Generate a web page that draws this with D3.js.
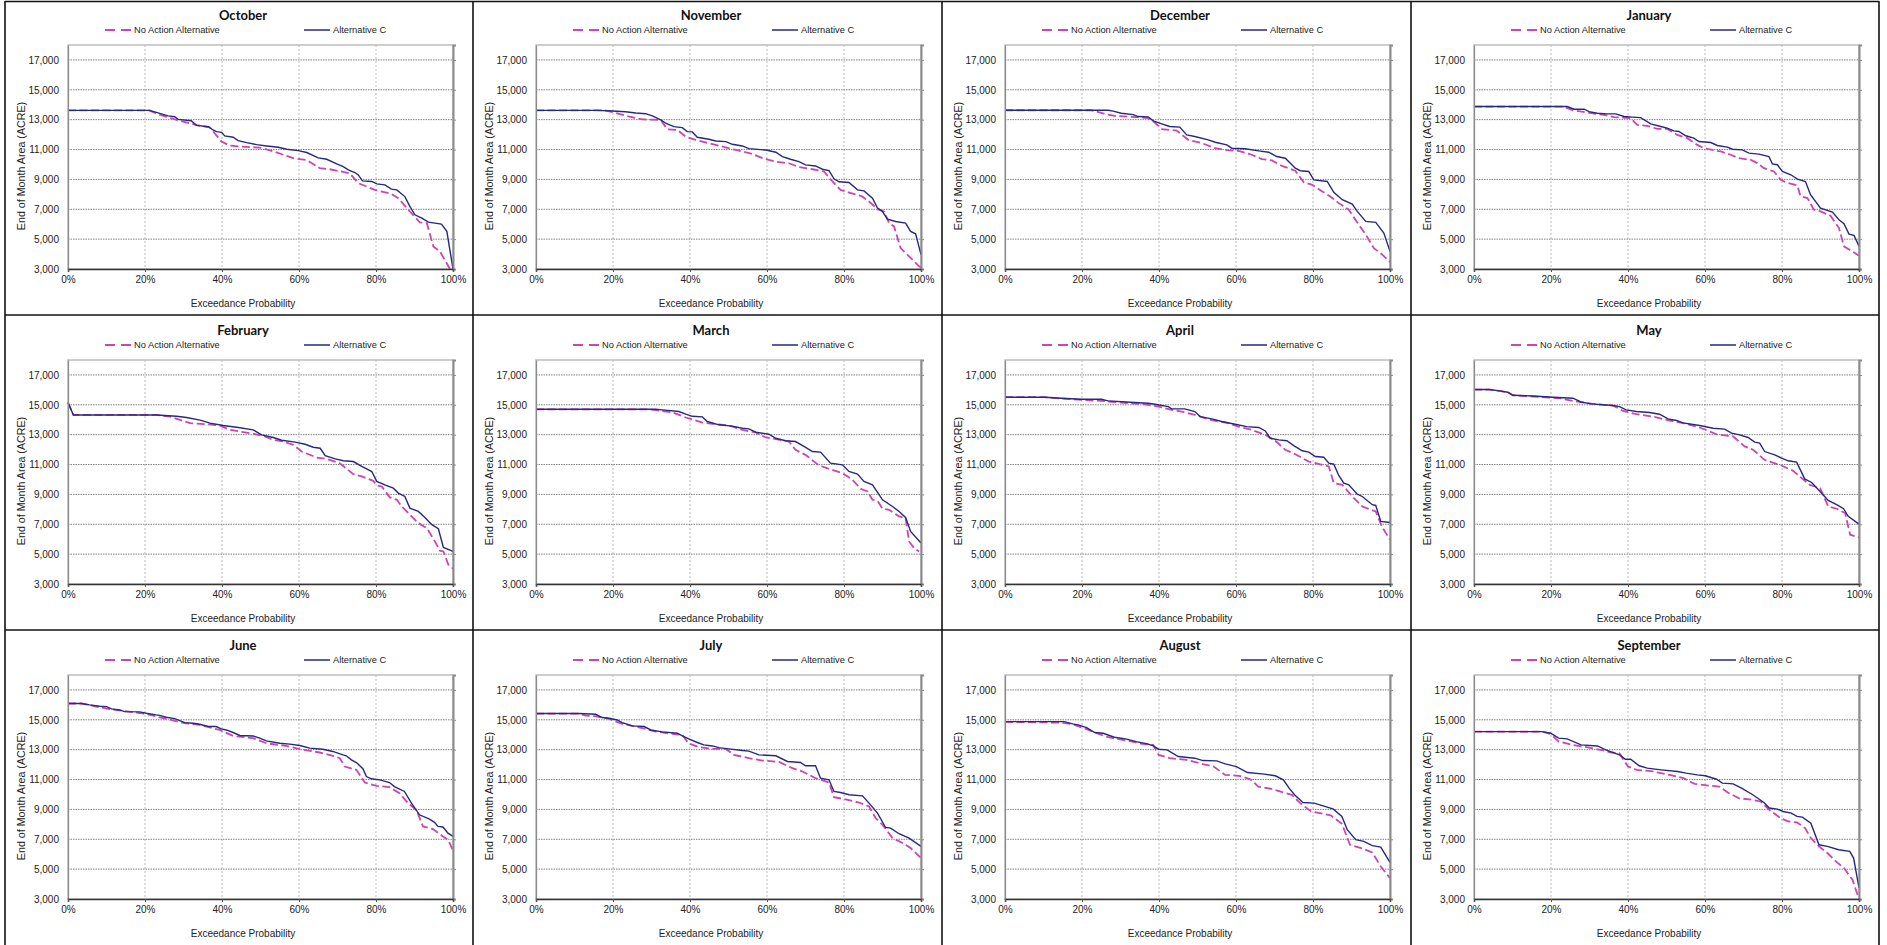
<!DOCTYPE html>
<html><head><meta charset="utf-8">
<script src="https://cdn.jsdelivr.net/npm/d3@7"></script>
<style>
html,body{margin:0;padding:0;background:#fff;}
svg{display:block;}
text{font-family:"Liberation Sans",Arial,sans-serif;fill:#222;}
.title{font-family:Lato,"Open Sans",sans-serif;font-weight:bold;font-size:13px;fill:#111;}
</style></head>
<body><svg id="chart" width="1887" height="945"></svg>
<script>
// ---------- DATA ----------
const months = ["October","November","December","January","February","March","April","May","June","July","August","September"];
const seriesNames = ["No Action Alternative","Alternative C"];
const xTicks = [0,20,40,60,80,100];
const yTicks = [3000,5000,7000,9000,11000,13000,15000,17000];
const xLabel = "Exceedance Probability";
const yLabel = "End of Month Area (ACRE)";

// [exceedance %, acres]
const octNoAction = [[0,13620],[21,13620],[23.8,13330],[28.2,12980],[33.4,12640],[36.8,12490],[38.1,12090],[39.9,11530],[42,11260],[44.6,11200],[49.8,11130],[53.3,10880],[58.5,10420],[62,10300],[65.4,9750],[68,9680],[73.2,9410],[75.4,8750],[79.7,8300],[84,8030],[85.8,7740],[88.8,6850],[91.4,6120],[93.2,6070],[94.9,4510],[96.6,4180],[99.2,3000],[100,2850]];
const octAltC = [[0,13620],[21.2,13620],[23.8,13420],[26,13250],[27.7,13200],[28.6,13020],[32,12930],[33.4,12620],[36.4,12530],[37.7,12310],[38.6,12200],[39.9,12150],[40.7,11910],[42.9,11820],[44.2,11600],[46.4,11460],[49,11330],[51.6,11240],[54.6,11150],[56.8,11020],[59.8,10930],[62,10800],[65,10440],[67.2,10350],[69.8,10040],[71.5,9860],[72.8,9640],[74.5,9460],[75.4,9300],[76.5,8900],[78.9,8860],[80.2,8700],[82.3,8630],[84,8350],[85.4,8300],[87.5,7850],[88.8,7190],[90.1,6630],[91.9,6410],[93.6,6140],[97,6010],[98.4,5520],[100,3000]];

const novNoAction = [[0,13620],[18,13620],[19.8,13510],[24.2,13200],[27.6,13020],[32.4,12980],[34.1,12350],[36.7,12310],[38.9,11860],[41.5,11640],[44.9,11420],[48.4,11200],[51.9,10970],[56.2,10710],[58.8,10420],[62.3,10190],[65.7,10080],[68.3,9820],[71.8,9680],[74.8,9530],[77,8860],[79.1,8300],[81.3,8120],[84.7,7860],[86.5,7520],[88.7,7010],[90.4,6850],[91.7,6070],[93,5850],[94.7,4400],[96.9,3850],[99.5,3180],[100,3100]];
const novAltC = [[0,13620],[16,13620],[19.8,13580],[23.3,13530],[25.9,13450],[28.5,13400],[30.2,13250],[32.4,12980],[33.7,12760],[35.8,12530],[38,12470],[39.3,12200],[40.6,12180],[41.9,11820],[44.9,11690],[46.7,11570],[49.3,11530],[51,11350],[53.6,11240],[55.3,11060],[59.7,10970],[62.3,10820],[64,10530],[66.1,10350],[68.3,10190],[70,9970],[72.6,9900],[74.4,9680],[76.1,9590],[77.4,9040],[78.7,8840],[81.3,8790],[83.5,8300],[85.2,8230],[87.4,7740],[88.7,7080],[90,6850],[91.3,6340],[93.4,6180],[96,6070],[97.3,5520],[98.6,5360],[100,3960]];

const decNoAction = [[0,13630],[22.4,13630],[25.9,13390],[28.5,13250],[32.8,13190],[37.2,13100],[38.9,12810],[40.7,12360],[44.6,12270],[47.6,11650],[51.1,11430],[54.6,11090],[58,10940],[60.6,10910],[64.1,10650],[66.7,10360],[69.3,10270],[71.9,9910],[75.4,9580],[77.6,8800],[79.8,8640],[82.4,8190],[84.5,7860],[86.7,7410],[89.3,6970],[91.5,6120],[93.7,5300],[95.8,4400],[98,3960],[100,3450]];
const decAltC = [[0,13630],[26.8,13630],[28.1,13570],[30.2,13430],[33.3,13340],[34.6,13210],[37.2,13190],[38.5,12920],[40.7,12720],[42.8,12540],[45.4,12500],[47.2,11980],[49.3,11870],[52.8,11650],[54.6,11490],[57.6,11310],[58.9,11090],[62.4,11050],[65.9,10910],[68.5,10820],[70.6,10530],[72.8,10420],[75.4,9750],[76.7,9580],[78.9,9530],[80.2,8970],[83.7,8860],[85.4,8130],[87.6,7640],[90.2,7350],[91.5,6860],[93.7,6190],[96.3,6120],[98.4,5410],[100,4180]];

const janNoAction = [[0,13880],[23,13880],[26,13610],[29.4,13480],[33.8,13320],[36.4,13170],[40.7,13100],[42.4,12650],[45,12590],[47.6,12380],[50.2,12380],[52.8,11980],[55.4,11760],[58,11310],[59.7,11090],[64.1,10870],[66.7,10650],[68.8,10420],[71.9,10310],[73.6,10090],[75.3,9750],[77.9,9530],[79.7,8970],[81,8800],[84,8600],[84.8,7860],[86.6,7750],[88.3,6970],[90,6860],[92.6,6570],[94.8,5740],[96.1,4520],[97.8,4250],[100,3890]];
const janAltC = [[0,13880],[24.2,13880],[26,13700],[28.6,13700],[29.9,13540],[32,13430],[34.6,13390],[36.8,13390],[39,13210],[41.1,13170],[43.3,13140],[45.9,12720],[48.5,12540],[50.2,12430],[51.9,12250],[53.2,12210],[55,11920],[57.1,11760],[58.4,11540],[61.5,11470],[63.2,11270],[65.8,11160],[67.1,11020],[69.7,10980],[71.4,10760],[74,10690],[76.6,10530],[77.5,10040],[78.8,9980],[80.1,9530],[82.3,9310],[84,9020],[86.1,8860],[87.4,7970],[90,7080],[93.1,6810],[94.8,6300],[96.1,6030],[97.4,5340],[98.7,5250],[100,4520]];

const febNoAction = [[0,15150],[1.4,14320],[23,14320],[26.5,14210],[31.7,13770],[36,13700],[39.5,13610],[42.1,13320],[47.3,13100],[50.7,12920],[53.3,12650],[55.9,12540],[58.5,12320],[60.7,11870],[64.6,11470],[67.2,11380],[70.6,11090],[74.1,10360],[76.3,10200],[79.3,9910],[80.2,9600],[81.5,9530],[83.6,8800],[85.4,8640],[86.7,8190],[88.4,7750],[91,7080],[93.2,6740],[95.3,5850],[96.6,5230],[97.5,5180],[98.8,4290],[100,4030]];
const febAltC = [[0,15150],[1.4,14320],[23,14320],[28.2,14230],[30.8,14150],[34.3,13970],[36.9,13770],[40.3,13610],[43.8,13500],[48.1,13320],[50.3,12990],[53.3,12810],[55.5,12630],[59,12500],[61.6,12360],[63.7,12160],[65.5,12090],[66.8,11600],[69.4,11380],[71.5,11250],[74.1,11200],[76.3,10870],[78.9,10530],[80.2,9870],[82.3,9640],[84.5,9420],[85.8,9090],[87.5,8860],[88.8,8080],[91,7860],[92.7,7460],[94.5,6970],[96.2,6700],[97.5,5450],[100,5180]];

const marNoAction = [[0,14700],[29,14700],[31.1,14640],[35.4,14500],[38.9,14150],[43.2,13810],[46.7,13700],[50.1,13610],[53.6,13320],[57.1,13140],[59.7,12810],[62.3,12700],[65.7,12540],[67.4,11980],[70,11650],[73.5,10940],[76.1,10710],[79.6,10420],[82.2,9980],[84.3,9380],[86.1,9200],[87.4,8640],[88.7,8570],[90,8040],[91.7,7970],[94.3,7530],[96,7410],[96.9,5850],[98.2,5410],[99.5,5180]];
const marAltC = [[0,14700],[31.1,14700],[32.8,14660],[37.1,14550],[38.9,14370],[40.6,14230],[43.2,14190],[44.5,13880],[47.5,13660],[51,13570],[53.6,13430],[55.3,13390],[57.1,13170],[60.5,13030],[62.3,12760],[64.8,12590],[67.4,12540],[69.6,12210],[71.8,11870],[73.9,11830],[76.5,11090],[79.6,10980],[81.3,10540],[83.5,10360],[85.2,9870],[87.4,9640],[90,8640],[92.6,8190],[94.3,7860],[96,7460],[97.3,6520],[100,5740]];

const aprNoAction = [[0,15510],[10.3,15510],[17.2,15370],[25,15260],[30.2,15150],[35.4,15060],[39.8,14880],[43.3,14660],[45.9,14550],[49.3,14320],[53.7,13970],[58,13770],[60.6,13540],[64.1,13320],[67.6,12990],[70.2,12590],[72.8,11990],[75.4,11690],[78.9,11200],[82.4,10980],[84.1,10870],[85.4,9750],[87.6,9640],[90.2,8860],[92.8,8190],[96.3,7860],[98,6790],[100,5960]];
const aprAltC = [[0,15510],[10.3,15510],[14.6,15440],[19.8,15370],[25,15370],[26.8,15260],[33.7,15150],[37.2,15100],[38.9,15040],[42.4,14880],[43.3,14730],[46.7,14730],[49.3,14550],[50.7,14210],[53.7,14060],[56.3,13880],[59.8,13700],[62.8,13540],[65.9,13480],[67.6,13250],[68.9,12760],[71.1,12650],[73.2,12590],[75,12270],[77.2,11920],[78.9,11830],[80.6,11540],[82.8,11490],[84.1,11090],[85.4,11020],[86.7,10270],[88,9750],[89.3,9640],[91.5,9020],[92.8,8860],[95.4,8310],[96.3,8260],[97.6,7190],[100,7120]];

const mayNoAction = [[0,16020],[4,16020],[6.6,15930],[8.8,15840],[10.1,15640],[15.3,15550],[22.2,15440],[25.7,15260],[30.9,15060],[36.1,14950],[38.7,14590],[42.2,14370],[46.5,14210],[50,13990],[54.3,13770],[58.6,13480],[63,13030],[67.3,12880],[70.3,12210],[72.5,11990],[75.5,11310],[79.4,10980],[82.9,10580],[84.6,10200],[87.2,9640],[89.9,9420],[92,8190],[94.2,8040],[96.4,7750],[97.7,6300],[100,6120]];
const mayAltC = [[0,16020],[4,16020],[6.6,15930],[8.8,15840],[10.1,15640],[15.3,15590],[20.5,15510],[25.7,15440],[27.8,15190],[30.4,15060],[36.1,14950],[37.8,14880],[39.5,14660],[42.2,14550],[45.6,14480],[48.2,14370],[50.4,14060],[52.6,13950],[54.3,13790],[58.6,13610],[62.1,13430],[65.1,13370],[66.9,13100],[69,12990],[71.2,12810],[72.9,12500],[74.2,12430],[75.5,11870],[78.1,11650],[79.9,11430],[81.6,11250],[83.8,11160],[85.9,10040],[87.7,9800],[89.9,9200],[92,8600],[94.2,8310],[96,8040],[97.2,7530],[100,7010]];

const junNoAction = [[0,16090],[3.5,16090],[10,15750],[20.3,15390],[23.8,15170],[30.3,14770],[34.2,14660],[39.4,14320],[42.9,13920],[48.1,13770],[51.5,13430],[56.7,13250],[60.2,13030],[65.4,12810],[68.8,12590],[70.6,12430],[71.9,11870],[74.9,11650],[77.1,10800],[80.1,10580],[83.5,10490],[86.1,10090],[88.3,9420],[90.5,8970],[92.2,7860],[94.8,7680],[97.4,7190],[98.7,6970],[100,6250]];
const junAltC = [[0,16090],[3.5,16090],[5.6,16000],[8.2,15910],[10,15880],[11.3,15730],[13.4,15660],[14.7,15550],[18.6,15530],[20.3,15440],[22.9,15330],[23.8,15300],[25.5,15170],[27.7,15080],[30.3,14810],[32.5,14770],[34.2,14700],[36.4,14550],[38.5,14550],[39.8,14390],[41.1,14320],[42.9,14150],[44.6,13950],[48.1,13920],[49.8,13770],[51.5,13590],[55,13430],[57.6,13370],[60.2,13280],[62.8,13100],[66.2,13030],[68.8,12880],[71.4,12650],[72.3,12590],[73.6,12320],[74.9,12140],[76.6,11720],[77.5,11200],[78.8,11050],[81,10980],[83.5,10800],[84.8,10530],[87.4,10200],[89.2,9420],[91.3,8640],[93.9,8350],[95.2,8130],[96.1,7860],[97.4,7820],[98.7,7410],[100,7190]];

const julNoAction = [[0,15420],[11.2,15420],[12.9,15280],[15.9,15220],[19,15060],[22.4,14730],[27.6,14440],[31.1,14210],[36.3,14030],[38,13990],[39.6,13430],[42.3,13170],[45.8,13050],[49.3,13050],[51.4,12650],[55.3,12430],[58.8,12270],[63.1,12180],[66.6,11760],[69.2,11540],[72.6,11090],[76.1,10800],[77.4,9820],[80,9690],[83.9,9460],[86.5,9200],[88.2,8420],[90,7970],[92.6,7080],[95.2,6750],[97.3,6410],[100,5740]];
const julAltC = [[0,15420],[11.2,15420],[15.5,15370],[17.2,15150],[19,15100],[21.1,14990],[22.4,14810],[25,14590],[28.1,14550],[29.8,14320],[32.8,14190],[36.7,14100],[38.4,13880],[39.7,13720],[41.9,13480],[43.6,13320],[45.8,13250],[47.5,13140],[50.1,13050],[53.6,12940],[55.3,12900],[57.9,12650],[62.3,12590],[65.3,12210],[68.7,12140],[70,11920],[72.6,11920],[73.9,11090],[76.1,10980],[77.4,10200],[79.1,10130],[81.3,9980],[84.8,9910],[86.5,9420],[88.7,8750],[90.8,7790],[92.1,7750],[94.3,7370],[96.9,7080],[100,6520]];

const augNoAction = [[0,14860],[14.7,14810],[17.6,14700],[21.2,14370],[23.3,14150],[26.2,13880],[29.1,13720],[32,13590],[35.6,13390],[38.5,13320],[39.9,12650],[42.8,12430],[47.1,12320],[51.4,12030],[54.2,11870],[57.2,11310],[60.8,11250],[63.7,11020],[65.8,10530],[69.5,10360],[72.3,10130],[74.5,9980],[76.7,9420],[79.5,8860],[82.4,8710],[84.6,8600],[87.5,8040],[89.6,6630],[92.5,6410],[95.4,6120],[97.6,5180],[100,4400]];
const augAltC = [[0,14880],[15.4,14880],[17.6,14730],[19,14660],[21.2,14480],[23.3,14150],[25.5,14100],[28.4,13830],[31.3,13720],[34.1,13540],[37,13390],[38.5,13250],[39.9,13030],[42.1,12990],[45,12540],[49.3,12430],[51.4,12270],[55,12250],[57.2,12050],[60.1,11870],[63,11470],[67.3,11360],[70.2,11250],[72.3,10980],[73.8,10420],[75.2,9980],[77.4,9460],[80.3,9420],[83.1,9200],[85.3,9020],[87.5,8530],[88.9,7640],[91.1,6970],[93.2,6860],[95.4,6570],[97.6,6480],[100,5450]];

const sepNoAction = [[0,14210],[17.7,14210],[19.9,14060],[22,13540],[25.6,13320],[29.2,13170],[32.8,12990],[35.7,12810],[37.8,12760],[40,11870],[42.2,11650],[46.5,11540],[50.8,11310],[54.4,11090],[57.3,10710],[61.6,10580],[63.7,10530],[65.9,10130],[68.8,9750],[72.4,9640],[74.5,9530],[76.7,8970],[79.6,8420],[81.7,8190],[83.9,8130],[86,7750],[87.5,7080],[89.6,6520],[91.8,6080],[94,5520],[96.1,5070],[98.3,4290],[100,3000]];
const sepAltC = [[0,14210],[17.7,14210],[19.9,14100],[22,13770],[24.2,13720],[27.8,13320],[32.1,13250],[34.2,12990],[37.8,12650],[39.3,12360],[40.7,12360],[42.9,11920],[45,11760],[48.6,11650],[52.9,11540],[55.1,11430],[58,11310],[60.1,11250],[63,11020],[64.5,10760],[67.3,10710],[69.5,10420],[72.4,9980],[75.3,9460],[76.7,9090],[78.8,9020],[80.3,8860],[82.4,8750],[83.9,8530],[85.3,8480],[87.5,8080],[89.6,6630],[91.8,6520],[94.7,6300],[97.6,6190],[98.6,5740],[100,3740]];

const noActionSeries = [octNoAction,novNoAction,decNoAction,janNoAction,febNoAction,marNoAction,aprNoAction,mayNoAction,junNoAction,julNoAction,augNoAction,sepNoAction];
const altCSeries = [octAltC,novAltC,decAltC,janAltC,febAltC,marAltC,aprAltC,mayAltC,junAltC,julAltC,augAltC,sepAltC];

// ---------- LAYOUT ----------
const colX = [5, 473, 942, 1411, 1879];
const rowY = [0, 315, 630];
const plotW = 385, plotH = 224;
const colorNA = "#CC45B2", colorC = "#27287F";

const svg = d3.select("#chart");
const x = d3.scaleLinear().domain([0,100]).range([0, plotW]);
const y = d3.scaleLinear().domain([3000,18000]).range([plotH, 0]);
const line = d3.line().x(d => x(d[0])).y(d => y(d[1]));
const fmt = d3.format(",");

months.forEach((m, i) => {
  const r = Math.floor(i/4), c = i % 4;
  const L = colX[c], T = rowY[r];
  const g = svg.append("g").attr("transform", `translate(${L},${T})`);
  // title
  g.append("text").attr("class","title").attr("x",238).attr("y",20).attr("text-anchor","middle").text(m);
  // legend
  const lg = g.append("g").attr("transform","translate(0,30)");
  lg.append("line").attr("x1",100).attr("x2",127).attr("y1",0).attr("y2",0)
    .attr("stroke",colorNA).attr("stroke-width",1.8).attr("stroke-dasharray","10,6");
  lg.append("text").attr("x",129).attr("y",3.3).style("font-size","9.3px").text(seriesNames[0]);
  lg.append("line").attr("x1",299).attr("x2",325).attr("y1",0).attr("y2",0)
    .attr("stroke",colorC).attr("stroke-width",1.5);
  lg.append("text").attr("x",328).attr("y",3.3).style("font-size","9.3px").text(seriesNames[1]);

  const p = g.append("g").attr("transform","translate(63,45)");
  // frame
  p.append("rect").attr("width",plotW).attr("height",plotH).attr("fill","#fff")
    .attr("stroke","#BDBDBD").attr("stroke-width",1.5);
  // vertical grid
  p.append("g").selectAll("line").data(xTicks.slice(1,-1)).join("line")
    .attr("x1",d=>x(d)).attr("x2",d=>x(d)).attr("y1",0).attr("y2",plotH)
    .attr("stroke","#BBBBBB").attr("stroke-width",1).attr("stroke-dasharray","2,2");
  // horizontal grid
  p.append("g").selectAll("line").data(yTicks.slice(1)).join("line")
    .attr("x1",0).attr("x2",plotW).attr("y1",d=>y(d)).attr("y2",d=>y(d))
    .attr("stroke","#808080").attr("stroke-width",1).attr("stroke-dasharray","1.5,1");
  // clip
  const cid = "clip"+i;
  p.append("clipPath").attr("id",cid).append("rect").attr("x",-1).attr("y",-1).attr("width",plotW+2).attr("height",plotH+1);
  const lines = p.append("g").attr("clip-path",`url(#${cid})`);
  lines.append("path").datum(noActionSeries[i]).attr("d",line).attr("fill","none")
    .attr("stroke",colorNA).attr("stroke-width",1.8).attr("stroke-dasharray","8,3.5");
  lines.append("path").datum(altCSeries[i]).attr("d",line).attr("fill","none")
    .attr("stroke",colorC).attr("stroke-width",1.4);

  // left axis
  const ya = p.append("g").call(d3.axisLeft(y).tickValues(yTicks).tickFormat(fmt).tickSize(0).tickPadding(9));
  ya.select(".domain").attr("stroke","#8A8A8A").attr("stroke-width",1.2);
  ya.selectAll("text").style("font-size","10px").style("font-family","Liberation Sans, Arial, sans-serif").attr("fill","#222");
  // right axis
  const yr = p.append("g").attr("transform",`translate(${plotW},0)`)
    .call(d3.axisRight(y).tickValues(yTicks.slice(1)).tickFormat("").tickSize(3));
  yr.select(".domain").attr("stroke","#8A8A8A").attr("stroke-width",2);
  yr.selectAll(".tick line").attr("stroke","#8A8A8A");
  // bottom axis
  const xa = p.append("g").attr("transform",`translate(0,${plotH})`)
    .call(d3.axisBottom(x).tickValues(xTicks).tickFormat(d=>d+"%").tickSize(3).tickPadding(4));
  xa.select(".domain").attr("stroke","#333").attr("stroke-width",1.5);
  xa.selectAll(".tick line").attr("stroke","#555");
  xa.selectAll("text").style("font-size","10px").style("font-family","Liberation Sans, Arial, sans-serif").attr("fill","#222");

  // axis titles
  g.append("text").attr("x",238).attr("y",307).attr("text-anchor","middle").style("font-size","10px").text(xLabel);
  g.append("text").attr("transform","translate(19.5,166) rotate(-90)").attr("text-anchor","middle").style("font-size","10.7px").text(yLabel);
});

// panel borders
const bg = svg.append("g").attr("stroke","#111").attr("stroke-width",1.6);
colX.forEach(cx => bg.append("line").attr("x1",cx).attr("x2",cx).attr("y1",1).attr("y2",945));
[1.5, 315, 630].forEach(ry => bg.append("line").attr("x1",colX[0]).attr("x2",colX[4]).attr("y1",ry).attr("y2",ry));
</script></body></html>
